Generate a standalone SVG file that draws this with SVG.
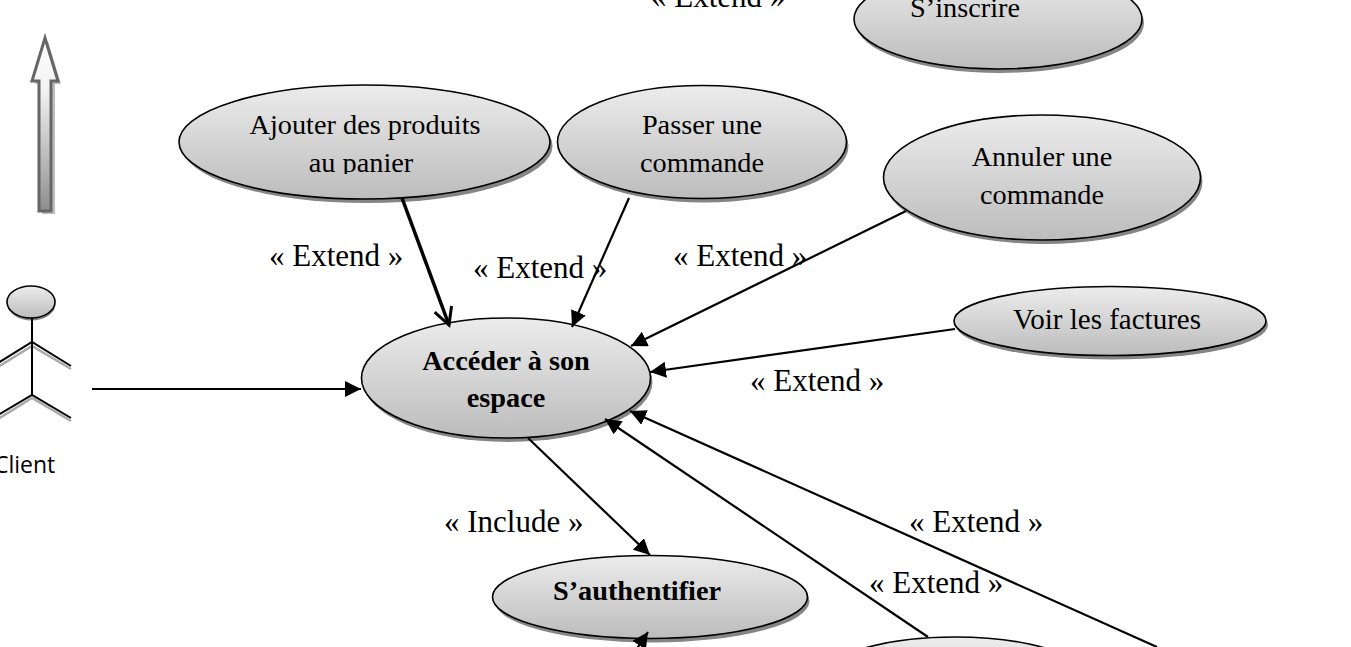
<svg xmlns="http://www.w3.org/2000/svg" width="1351" height="647" viewBox="0 0 1351 647">
<style>
.n{fill:url(#g);stroke:#000;stroke-width:1.6}
.s{fill:#858585}
.t{font-family:"Liberation Serif",serif;font-size:28.300px;fill:#000;text-anchor:middle}
.b{font-weight:bold}
.l{font-family:"Liberation Serif",serif;font-size:31px;fill:#000}
.c{fill:none;stroke:#000;stroke-width:2.200}
.a{marker-end:url(#m)}
.fig{stroke:#000;stroke-width:2;fill:none}
.figs{stroke:#aaa;stroke-width:2.500;fill:none}
</style>
<defs>
<linearGradient id="g" x1="0" y1="0" x2="0" y2="1"><stop offset="0" stop-color="#ececec"/><stop offset="1" stop-color="#bcbcbc"/></linearGradient>
<linearGradient id="ag" x1="0" y1="0" x2="0" y2="1"><stop offset="0" stop-color="#fff"/><stop offset="0.3" stop-color="#f2f2f2"/><stop offset="1" stop-color="#8e8e8e"/></linearGradient>
<marker id="m" markerUnits="userSpaceOnUse" markerWidth="18" markerHeight="18" refX="16" refY="8" orient="auto"><path d="M0 0L16 8L0 16Z" fill="#000"/></marker>
<marker id="o" markerUnits="userSpaceOnUse" markerWidth="24" markerHeight="24" refX="19" refY="10" orient="auto"><path d="M2 1L19 10L2 19" fill="none" stroke="#000" stroke-width="3"/></marker>
<clipPath id="cp"><rect x="280" y="140" width="170" height="34"/></clipPath>
</defs>
<g id="direction-arrow">
<path d="M48 41L61 84H55V214H42V84H35Z" fill="#bdbdbd"/>
<path d="M45 38L58 81H51V211H39V81H32Z" fill="url(#ag)" stroke="#666" stroke-width="3"/>
</g>
<g id="actor-client">
<path class="figs" d="M-2 367L32 346L71 369M-2 419L32 398L71 421"/>
<ellipse cx="31.500" cy="304" rx="24" ry="16.500" class="s"/>
<ellipse cx="31" cy="302" rx="24" ry="16" class="n"/>
<path class="fig" d="M32 318V395M-2 363L32 342L71 366M-2 415L32 395L71 418"/>
<text x="-6" y="473" font-family="Open Sans,Noto Sans,sans-serif" font-size="23" fill="#000">Client</text>
</g>
<g id="node-inscrire">
<ellipse cx="1000" cy="23" rx="144" ry="50" class="s"/>
<ellipse cx="998" cy="19" rx="144" ry="50" class="n"/>
<text x="965" y="17" class="t">S’inscrire</text>
</g>
<g id="node-ajouter">
<ellipse cx="367" cy="146" rx="185.500" ry="57" class="s"/>
<ellipse cx="364.500" cy="142" rx="185.500" ry="57" class="n"/>
<text x="365" y="134" class="t">Ajouter des produits</text>
<text x="361" y="172" class="t" clip-path="url(#cp)">au panier</text>
</g>
<g id="node-passer">
<ellipse cx="704" cy="146" rx="144.500" ry="56.500" class="s"/>
<ellipse cx="702" cy="142" rx="144.500" ry="56.500" class="n"/>
<text x="702" y="134" class="t">Passer une</text>
<text x="702" y="172" class="t">commande</text>
</g>
<g id="node-annuler">
<ellipse cx="1044" cy="181.500" rx="158.500" ry="62.500" class="s"/>
<ellipse cx="1042" cy="177.500" rx="158.500" ry="62.500" class="n"/>
<text x="1042" y="166" class="t">Annuler une</text>
<text x="1042" y="204" class="t">commande</text>
</g>
<g id="node-factures">
<ellipse cx="1112" cy="325" rx="156" ry="34.500" class="s"/>
<ellipse cx="1110" cy="321" rx="156" ry="34.500" class="n"/>
<text x="1107" y="329" class="t" style="font-size:29px">Voir les factures</text>
</g>
<g id="node-acceder">
<ellipse cx="508" cy="382" rx="144.500" ry="60" class="s"/>
<ellipse cx="506" cy="378" rx="144.500" ry="60" class="n"/>
<text x="506" y="370" class="t b">Accéder à son</text>
<text x="506" y="407" class="t b">espace</text>
</g>
<g id="node-authentifier">
<ellipse cx="652" cy="601" rx="157.500" ry="41.500" class="s"/>
<ellipse cx="650" cy="597" rx="157.500" ry="41.500" class="n"/>
<text x="637" y="600" class="t b">S’authentifier</text>
</g>
<g id="node-bottom">
<ellipse cx="957" cy="691" rx="144" ry="52" class="s"/>
<ellipse cx="955" cy="687" rx="144" ry="50" class="n"/>
</g>
<g id="connectors">
<path class="c a" d="M92 389H361"/>
<path class="c" style="stroke-width:3.500;marker-end:url(#o)" d="M402 198L449 325"/>
<path class="c a" d="M629 198L572 327"/>
<path class="c a" d="M906 211L631 346"/>
<path class="c a" d="M955 329L650 372"/>
<path class="c a" d="M528 438L650 555"/>
<path class="c a" d="M928 637L605 419"/>
<path class="c a" d="M1157 647L630 411"/>
<path class="c a" d="M636 650L648 632"/>
</g>
<g id="labels">
<text class="l" x="269" y="266">« Extend »</text>
<text class="l" x="473" y="278">« Extend »</text>
<text class="l" x="673" y="266">« Extend »</text>
<text class="l" x="750" y="391">« Extend »</text>
<text class="l" x="909" y="532">« Extend »</text>
<text class="l" x="869" y="593">« Extend »</text>
<text class="l" x="651" y="7">« Extend »</text>
<text class="l" x="444" y="532">« Include »</text>
</g>
</svg>
